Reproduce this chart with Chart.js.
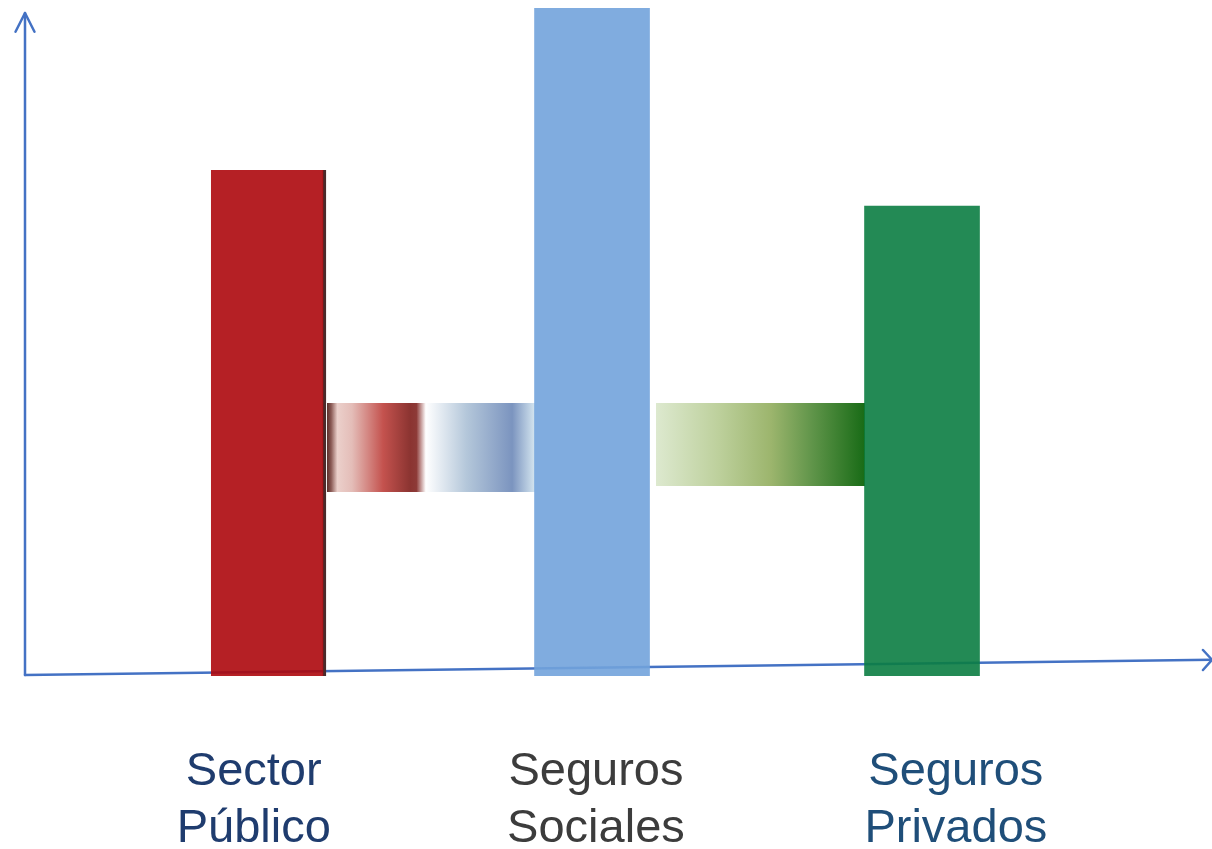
<!DOCTYPE html>
<html>
<head>
<meta charset="utf-8">
<script src="https://cdn.jsdelivr.net/npm/chart.js@4/dist/chart.umd.min.js"></script>
<style>
  html, body { margin: 0; padding: 0; background: #ffffff; }
  #wrap { width: 1212px; height: 849px; position: relative; }
</style>
</head>
<body>
<div id="wrap"><canvas id="c"></canvas></div>
<script>
// ---- data ----
const categories = ['Sector Público', 'Seguros Sociales', 'Seguros Privados'];
const barX = [20.51, 47.77, 75.57];
const barValues = [75.75, 100, 70.36];
const labelX = [19.27, 48.1, 78.42];
const labelColors = ['#1F3C6E', '#3C3C3C', '#1F4E79'];
const barColors = ['rgba(173,8,13,0.9)', 'rgba(114,163,219,0.9)', 'rgba(11,125,66,0.9)'];

// connectors between bars: x extent and y extent (bottom, top)
const connector1X = [25.44, 42.97];
const connector1Y = [27.54, 40.87];
const connector2X = [53.16, 70.77];
const connector2Y = [28.44, 40.87];

// axes drawn as arrows
const yAxisX = [0, 0];
const yAxisY = [0.15, 99.25];
const xAxisX = [0, 100];
const xAxisY = [0.15, 2.43];
const yArrowX = [-0.8, 0, 0.8];
const yArrowY = [96.45, 99.25, 96.45];
const xArrowX = [99.24, 100, 99.24];
const xArrowY = [3.89, 2.43, 0.9];

const grad1Stops = [
  [0, '#5a2e2b'], [0.02, '#8a5a55'], [0.05, '#ebd0cb'], [0.12, '#e4bdb8'],
  [0.27, '#c4524e'], [0.40, '#8b3431'], [0.43, '#8d3a37'], [0.475, '#ffffff'],
  [0.67, '#b4c7da'], [0.89, '#7b94bf'], [1, '#d5e6f0']
];
const grad2Stops = [
  [0, '#dde9cf'], [0.3, '#bdd09c'], [0.55, '#9cb56d'], [0.75, '#5f9449'], [1, '#186b16']
];

const AXIS_COLOR = '#4472C4';

function pts(xs, ys) { return xs.map((x, i) => ({ x: x, y: ys[i] })); }

function gradientFor(xs, stops) {
  return function (ctx) {
    const chart = ctx.chart;
    if (!chart.chartArea) return 'rgba(0,0,0,0)';
    const sx = chart.scales.x;
    const g = chart.ctx.createLinearGradient(sx.getPixelForValue(xs[0]), 0, sx.getPixelForValue(xs[1]), 0);
    stops.forEach(s => g.addColorStop(s[0], s[1]));
    return g;
  };
}

function lineDs(data) {
  return {
    type: 'line', data: data, borderColor: AXIS_COLOR, borderWidth: 2.5,
    pointRadius: 0, fill: false, clip: false, tension: 0,
    borderCapStyle: 'round', borderJoinStyle: 'round'
  };
}

new Chart(document.getElementById('c'), {
  type: 'bar',
  data: {
    datasets: [
      {
        type: 'bar',
        data: pts(barX, barValues),
        backgroundColor: barColors,
        barThickness: 115,
        borderColor: '#4a2b2b',
        borderWidth: (ctx) => ctx.dataIndex === 0 ? { top: 0, right: 3, bottom: 0, left: 0 } : 0,
        borderSkipped: false
      },
      lineDs(pts(xAxisX, xAxisY)),
      lineDs(pts(yAxisX, yAxisY)),
      lineDs(pts(yArrowX, yArrowY)),
      lineDs(pts(xArrowX, xArrowY)),
      {
        type: 'line',
        data: pts(connector1X, [connector1Y[1], connector1Y[1]]),
        borderWidth: 0, pointRadius: 0, tension: 0, clip: false,
        fill: { value: connector1Y[0] },
        backgroundColor: gradientFor(connector1X, grad1Stops)
      },
      {
        type: 'line',
        data: pts(connector2X, [connector2Y[1], connector2Y[1]]),
        borderWidth: 0, pointRadius: 0, tension: 0, clip: false,
        fill: { value: connector2Y[0] },
        backgroundColor: gradientFor(connector2X, grad2Stops)
      }
    ]
  },
  options: {
    responsive: true,
    maintainAspectRatio: false,
    animation: false,
    layout: { padding: { top: 8, left: 25, right: 0, bottom: 0 } },
    plugins: { legend: { display: false }, tooltip: { enabled: false } },
    scales: {
      x: {
        type: 'linear', min: 0, max: 100, offset: false,
        grid: { display: false, drawTicks: false },
        border: { display: false },
        afterBuildTicks: (scale) => { scale.ticks = labelX.map(v => ({ value: v })); },
        afterFit: (scale) => { scale.height = 173; },
        ticks: {
          autoSkip: false, maxRotation: 0, minRotation: 0, padding: 68,
          font: { family: '"Liberation Sans", Arial, sans-serif', size: 47, lineHeight: 1.2 },
          color: (ctx) => labelColors[ctx.index],
          callback: (value, index) => categories[index].split(' ')
        }
      },
      y: { display: false, min: 0, max: 100 }
    }
  }
});
</script>
</body>
</html>
